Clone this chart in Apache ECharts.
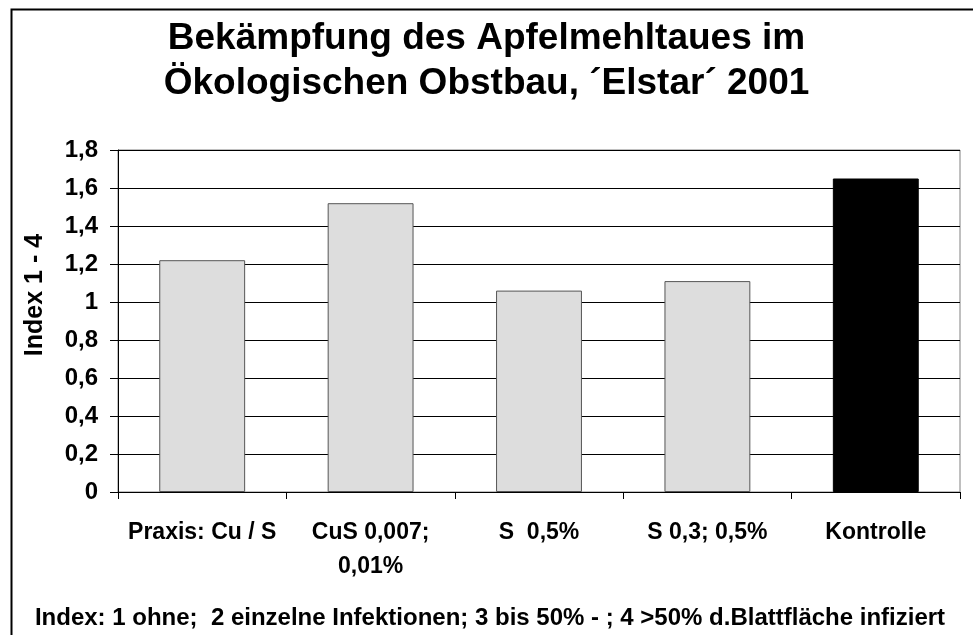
<!DOCTYPE html>
<html>
<head>
<meta charset="utf-8">
<script src="https://cdn.jsdelivr.net/npm/echarts@6/dist/echarts.min.js"></script>
<style>
  html, body { margin: 0; padding: 0; background: #fff; }
  #chart { width: 973px; height: 635px; }
</style>
</head>
<body>
<div id="chart"></div>
<script>
// Daten
var categories = ['Praxis: Cu / S', 'CuS 0,007;\n0,01%', 'S  0,5%', 'S 0,3; 0,5%', 'Kontrolle'];
var values = [1.22, 1.52, 1.06, 1.11, 1.65];
var yTicks = [0, 0.2, 0.4, 0.6, 0.8, 1, 1.2, 1.4, 1.6, 1.8];

var FONT = '"Liberation Sans", Arial, sans-serif';

var chart = echarts.init(document.getElementById('chart'));

var barData = values.map(function (v, i) {
    var isControl = categories[i] === 'Kontrolle';
    return {
        value: v,
        itemStyle: {
            color: isControl ? '#000000' : '#dddddd',
            borderColor: isControl ? '#000000' : '#555555',
            borderWidth: 1
        }
    };
});

chart.setOption({
    animation: false,
    backgroundColor: '#ffffff',
    textStyle: { fontFamily: FONT },
    title: {
        text: 'Bekämpfung des Apfelmehltaues im\nÖkologischen Obstbau, ´Elstar´ 2001',
        left: 'center',
        top: 11,
        textStyle: {
            fontFamily: FONT,
            fontSize: 37,
            fontWeight: 'bold',
            color: '#000',
            lineHeight: 45
        }
    },
    grid: {
        left: 118,
        right: 13,
        top: 150,
        bottom: 143,
        show: true,
        borderColor: '#808080',
        borderWidth: 1,
        backgroundColor: 'transparent'
    },
    xAxis: {
        type: 'category',
        data: categories,
        axisLine: { lineStyle: { color: '#000', width: 1 } },
        axisTick: { show: true, length: 7, lineStyle: { color: '#000' } },
        axisLabel: {
            interval: 0,
            margin: 24,
            fontFamily: FONT,
            fontSize: 23,
            fontWeight: 'bold',
            color: '#000',
            lineHeight: 34
        }
    },
    yAxis: {
        type: 'value',
        min: yTicks[0],
        max: yTicks[yTicks.length - 1],
        interval: 0.2,
        axisLine: { show: true, lineStyle: { color: '#000', width: 1 } },
        axisTick: { show: true, length: 8, lineStyle: { color: '#000' } },
        splitLine: { show: true, lineStyle: { color: '#000', width: 1 } },
        axisLabel: {
            margin: 20,
            fontFamily: FONT,
            fontSize: 24,
            fontWeight: 'bold',
            color: '#000',
            formatter: function (v) {
                return String(Math.round(v * 10) / 10).replace('.', ',');
            }
        }
    },
    series: [{
        type: 'bar',
        data: barData,
        barCategoryGap: '49%'
    }],
    graphic: [
        {
            type: 'rect',
            left: 9,
            top: 7,
            shape: { width: 1000, height: 1000 },
            style: { fill: 'none', stroke: '#000', lineWidth: 2 },
            silent: true
        },
        {
            type: 'text',
            x: 35,
            y: 295,
            rotation: Math.PI / 2,
            style: {
                text: 'Index 1 - 4',
                font: 'bold 25px ' + FONT,
                fill: '#000',
                align: 'center',
                verticalAlign: 'middle'
            }
        },
        {
            type: 'text',
            x: 490,
            y: 618,
            style: {
                text: 'Index: 1 ohne;  2 einzelne Infektionen; 3 bis 50% - ; 4 >50% d.Blattfläche infiziert',
                font: 'bold 24px ' + FONT,
                fill: '#000',
                align: 'center',
                verticalAlign: 'middle'
            }
        }
    ]
});
</script>
</body>
</html>
